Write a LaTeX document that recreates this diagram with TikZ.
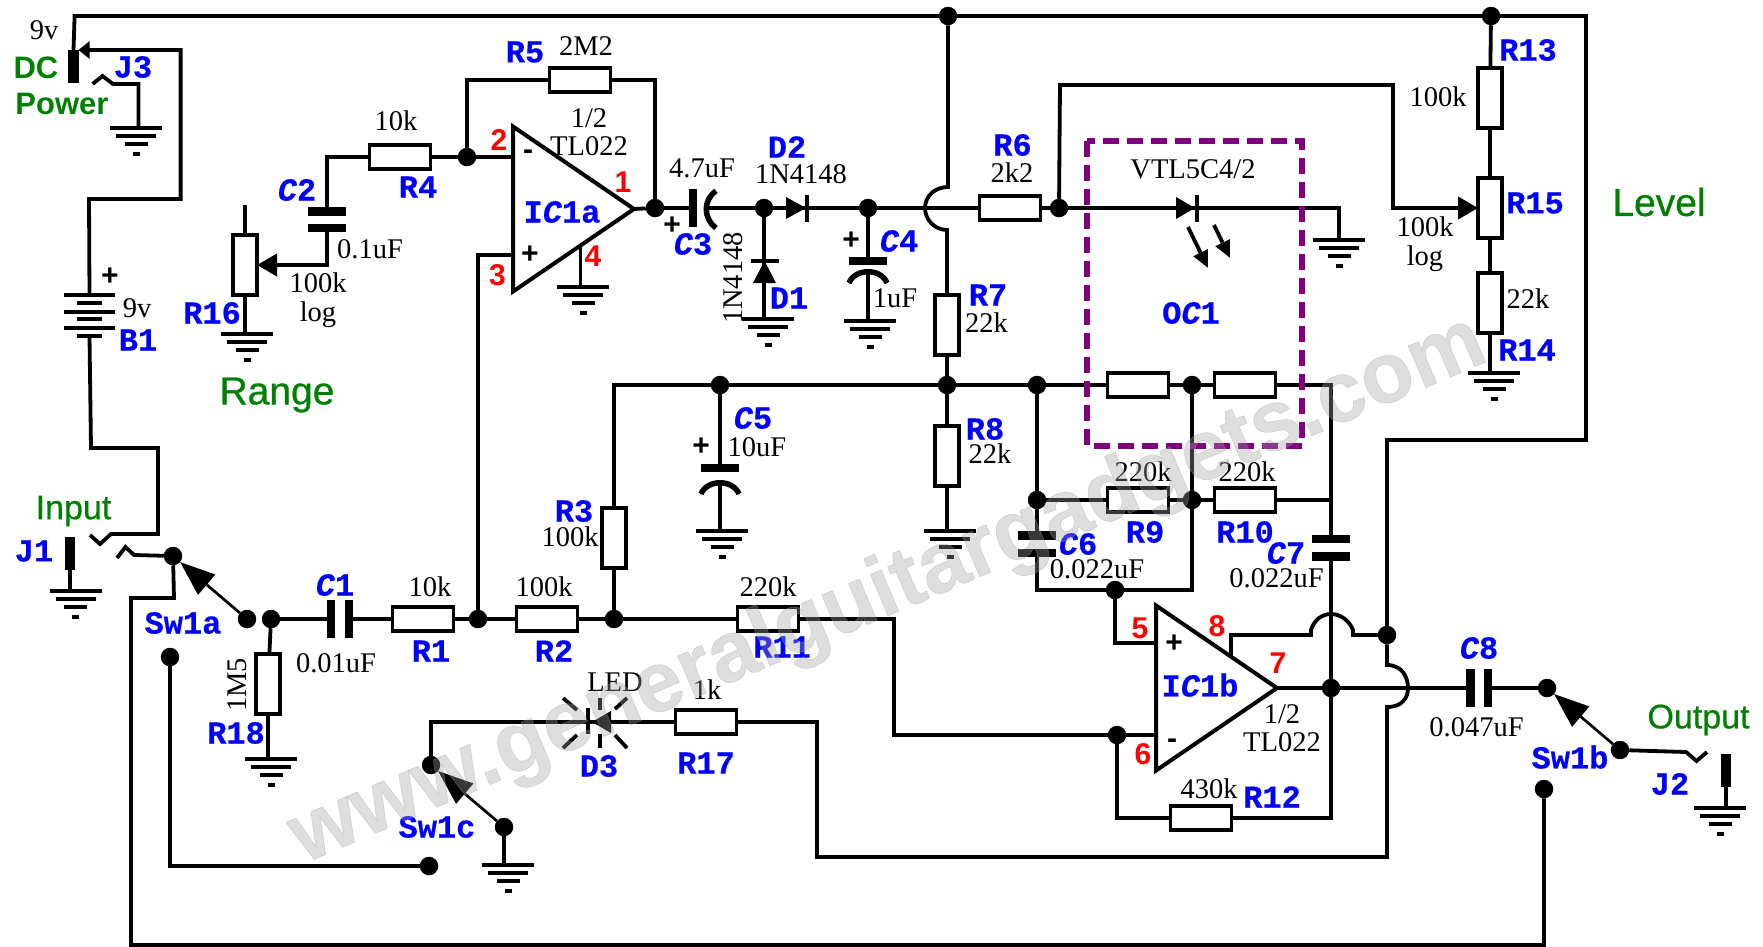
\documentclass[tikz,border=0pt]{standalone}
\usepackage{fontspec}
\setmainfont{Liberation Serif}
\setsansfont{Liberation Sans}
\setmonofont{Liberation Mono}
\newfontfamily\reffont{Liberation Mono}[BoldFeatures={FakeBold=0.5},BoldItalicFeatures={FakeBold=0.5}]
\newfontfamily\namefont{Liberation Sans}[UprightFeatures={FakeBold=0.7}]
\newfontfamily\markfont{Liberation Sans}[BoldFeatures={FakeBold=0.8}]
\usepackage{tikz}
\usetikzlibrary{arrows.meta}
\usetikzlibrary{shapes.geometric}
\definecolor{labelgreen}{RGB}{0,128,0}
\definecolor{boxpurple}{RGB}{128,0,128}
\definecolor{markgray}{RGB}{160,160,160}
\newcommand{\capc}{{\itshape C}}
\tikzstyle{base} = [inner sep=0pt, outer sep=0pt]
\tikzstyle{wire} = [line width=3.8pt]
\tikzstyle{thinwire} = [line width=2.7pt]
\tikzstyle{dot} = [base, circle, fill=black, minimum size=18.5pt]
\tikzstyle{resh} = [base, rectangle, draw=black, line width=3.8pt, minimum width=61pt, minimum height=24.5pt]
\tikzstyle{resv} = [base, rectangle, draw=black, line width=3.8pt, minimum width=24pt, minimum height=60pt]
\tikzstyle{plateh} = [base, rectangle, fill=black, minimum width=38pt, minimum height=8.5pt]
\tikzstyle{platev} = [base, rectangle, fill=black, minimum width=8.5pt, minimum height=38pt]
\tikzstyle{batplate} = [base, rectangle, fill=black, minimum height=4.5pt]
\tikzstyle{jackbar} = [base, rectangle, fill=black, minimum width=10.5pt, minimum height=33pt]
\tikzstyle{curved} = [line width=5.5pt]
\tikzstyle{gline} = [line width=3.2pt]
\tikzstyle{opamp} = [base, isosceles triangle, isosceles triangle stretches, draw=black, line width=4pt, minimum width=165pt, minimum height=121pt, anchor=apex]
\tikzstyle{value} = [base, font=\fontsize{28.5}{28.5}\selectfont]
\tikzstyle{refdes} = [base, text=blue, font=\reffont\bfseries\fontsize{32}{32}\selectfont]
\tikzstyle{pinnum} = [base, text=red, font=\sffamily\bfseries\fontsize{30}{30}\selectfont]
\tikzstyle{signmark} = [base, font=\sffamily\bfseries\fontsize{30}{30}\selectfont]
\tikzstyle{bigname} = [base, text=labelgreen, font=\namefont\fontsize{39}{39}\selectfont]
\tikzstyle{midname} = [base, text=labelgreen, font=\namefont\fontsize{34}{34}\selectfont]
\tikzstyle{boldname} = [base, text=labelgreen, font=\sffamily\bfseries\fontsize{31}{31}\selectfont]
\tikzstyle{wmark} = [base, text=markgray, text opacity=0.35, font=\markfont\bfseries\fontsize{85.5}{85.5}\selectfont]
\begin{document}
\begin{tikzpicture}[x=1pt, y=-1pt, node distance=32pt]
    \useasboundingbox (0,0) rectangle (1763,946);

    \foreach \name/\x/\y in {dtopa/948/16, dtopb/1491/16, din/467/157, dout/655/208, dcthree/764/208, dcfour/868/208, drsix/1059/208, dcfive/720/385, drseven/947/385, dfb/1037/385, doc/1192/385, dcsix/1037/500, drnine/1192/500, dfive/1115/590, dsix/1117/735, dseven/1331/688, deight/1387/635, dmain/478/619, drthree/614/619, dswar/247/619, dswal/271/619, dswat/173/556, dswab/170/657, dswct/431/765, dswcb/504/827, dswcc/429/866, dswbt/1547/688, dswbr/1620/750, dswbb/1544/789}
        \node (\name) [dot] at (\x,\y) {};

    \foreach \name/\x/\y in {gjthree/136/128, grsixteen/247/334, gica/583/287, gdone/768/319, gcfour/870/321, grfourteen/1494/373, gled/1339/240, gcfive/722/531, greight/950/531, gjone/75.5/591, greighteen/271/759, gswc/508/865, gjtwo/1720/808} {
        \coordinate (\name) at (\x,\y);
        \draw[gline] ({\x-26},\y) -- ({\x+26},\y);
        \draw[gline] ({\x-20},{\y+8}) -- ({\x+20},{\y+8});
        \draw[gline] ({\x-11.5},{\y+16}) -- ({\x+11.5},{\y+16});
        \draw[gline] ({\x-3.5},{\y+26}) -- ({\x+3.5},{\y+26});
    }

    \foreach \y/\w in {295/51, 303/25, 312/51, 319/25, 328/51, 336/25}
        \node (bat\y) [batplate, minimum width=\w pt] at (89.5,\y) {};

    \node (jthreebar) [jackbar] at (73.5,66.5) {};
    \node (jonebar) [jackbar] at (70,553) {};
    \node (jtwobar) [jackbar] at (1726,770) {};

    \node (icb) [opamp] at (1277,688) {};
    \node (ica) [opamp] at (634,209) {};
    \coordinate (icainv) at (513,157);
    \coordinate (icapos) at (513,255);
    \coordinate (icafour) at (580.5,246);
    \coordinate (icbpos) at (1157,643);
    \coordinate (icbneg) at (1157,735);
    \coordinate (icbeight) at (1231,657);

    \node (rone) [resh] at (423,619) {};
    \node (rtwo) [resh] at (547,619) {};
    \node (releven) [resh] at (768,619) {};
    \node (rfour) [resh] at (400,157) {};
    \node (rfive) [resh] at (580,80) {};
    \node (rsix) [resh] at (1010,208) {};
    \node (rnine) [resh] at (1138,500) {};
    \node (rten) [resh] at (1245,500) {};
    \node (roca) [resh] at (1138,385) {};
    \node (rocb) [resh] at (1245,385) {};
    \node (rtwelve) [resh] at (1201,818) {};
    \node (rseventeen) [resh] at (706,722) {};
    \node (rthree) [resv] at (614,538) {};
    \node (rseven) [resv] at (947,325) {};
    \node (reight) [resv] at (947,456) {};
    \node (rsixteen) [resv] at (245,265) {};
    \node (reighteen) [resv] at (268,684) {};
    \node (rthirteen) [resv] at (1490,98) {};
    \node (rfifteen) [resv] at (1490,208) {};
    \node (rfourteen) [resv] at (1490,303) {};

    \node (cone) [platev] at (331,619) {};
    \node (coneb) [platev] at (349,619) {};
    \node (ctwo) [plateh] at (327,211.5) {};
    \node (ctwob) [plateh] at (327,228) {};
    \node (cthree) [platev] at (693,208) {};
    \coordinate (cthreeb) at (707,208);
    \node (cfour) [plateh] at (868,261) {};
    \coordinate (cfourb) at (868,273);
    \node (cfive) [plateh] at (720,468) {};
    \coordinate (cfiveb) at (720,482);
    \node (csix) [plateh] at (1037,535.5) {};
    \node (csixb) [plateh] at (1037,553) {};
    \node (cseven) [plateh] at (1331,539) {};
    \node (csevenb) [plateh] at (1331,556.5) {};
    \node (ceight) [platev] at (1470.5,688) {};
    \node (ceightb) [platev] at (1488,688) {};

    \coordinate (jthreetip) at (78.5,50);
    \coordinate (jthreeend) at (92.6,84);
    \coordinate (jthreegnd) at (138.5,128);
    \coordinate (joneend) at (90,535);
    \coordinate (jswend) at (117,558);
    \coordinate (jtwoend) at (1707,752);
    \coordinate (rsixteentop) at (245,205);

    \draw[curved] (716,191) .. controls (703,200) and (703,218) .. (716,228);
    \draw[curved] (849,283) .. controls (855,268) and (881,268) .. (887,283);
    \draw[curved] (701,494) .. controls (707,479) and (733,479) .. (739,494);

    \draw[wire] (jthreebar.north) -- (74.6,16) -- (dtopa);
    \draw[wire] (dtopa) -- (dtopb) -- (1586,16) -- (1586,440) -- (1387,440) -- (deight);
    \draw[wire] (deight) -- (1387,665) .. controls (1402,665) and (1408,677) .. (1408,688) .. controls (1408,698) and (1402,707) .. (1387,707) -- (1387,857) -- (817,857) -- (817,722) -- (rseventeen);
    \draw[wire] (icbeight) -- (1231,635) -- (1311,635) -- (1311,630) .. controls (1314,620) and (1322,614) .. (1331,614) .. controls (1340,614) and (1349,620) .. (1353,630) -- (1353,635) -- (deight);
    \draw[wire,-{Triangle[length=11pt,width=17pt]}] (bat295) -- (89,199) -- (180.6,199) -- (180.6,50) -- (jthreetip);
    \draw[wire] (jthreeend) -- (102.5,76) -- (113,84) -- (138.5,84) -- (jthreegnd);
    \draw[wire] (bat336.center) -- (91,448) -- (158,448) -- (158,534) -- (111,534) -- (100,544) -- (joneend);
    \draw[wire] (dswat) -- (134,555) -- (125.5,547) -- (jswend);
    \draw[wire] (dswat) -- (174,598) -- (131,598) -- (131,945) -- (1544,945) -- (dswbb);
    \draw[wire] (dswab) -- (170,866) -- (dswcc);
    \draw[thinwire,-{Triangle[length=35pt,width=26pt]}] (dswar) -- (dswat);
    \draw[thinwire,-{Triangle[length=35pt,width=26pt]}] (dswcb) -- (dswct);
    \draw[thinwire,-{Triangle[length=35pt,width=26pt]}] (dswbr) -- (dswbt);
    \draw[wire] (jonebar) -- (jonebar |- gjone);
    \draw[wire] (dswal) -- (cone);
    \draw[wire] (dswal) -- (reighteen);
    \draw[wire] (reighteen) -- (reighteen |- greighteen);
    \draw[wire] (coneb) -- (rone);
    \draw[wire] (rone) -- (dmain);
    \draw[wire] (dmain) -- (rtwo);
    \draw[wire] (rtwo) -- (drthree);
    \draw[wire] (drthree) -- (releven);
    \draw[wire] (dmain) |- (icapos);
    \draw[wire] (drthree) -- (rthree);
    \draw[wire] (rthree) |- (dcfive);
    \draw[wire] (releven) -- (894,619) -- (894,735) -- (dsix);
    \draw[wire] (dsix) -- (icbneg);
    \draw[wire] (dsix) |- (rtwelve);
    \draw[wire] (rtwelve) -- (1331,818) -- (dseven);
    \draw[wire] (rfour) -| (ctwo);
    \draw[wire] (rfour) -- (din);
    \draw[wire] (din) -- (icainv);
    \draw[wire] (din) |- (rfive);
    \draw[wire] (rfive) -| (dout);
    \draw[wire,-{Triangle[length=20pt,width=22pt]}] (ctwob) |- (rsixteen);
    \draw[wire] (rsixteen) -- (rsixteentop);
    \draw[wire] (rsixteen) -- (rsixteen |- grsixteen);
    \draw[wire] (icafour) -- (icafour |- gica);
    \draw[wire] (ica.apex) -- (dout);
    \draw[wire] (dout) -- (cthree);
    \draw[wire] (cthreeb) -- (dcthree);
    \draw[wire] (dcthree) -- (dcfour);
    \draw[wire] (dcfour) -- (rsix);
    \draw[wire] (rsix) -- (drsix);
    \draw[wire] (dcthree) -- (dcthree |- gdone);
    \draw[wire] (dcfour) -- (cfour);
    \draw[wire] (cfourb) -- (cfourb |- gcfour);
    \draw[wire] (dtopa) -- (948,187) .. controls (935,187) and (925,196) .. (925,208) .. controls (925,220) and (935,230) .. (947,230) -- (rseven);
    \draw[wire] (rseven) -- (drseven);
    \draw[wire] (drseven) -- (reight);
    \draw[wire] (reight) -- (reight |- greight);
    \draw[wire] (dcfive) -- (cfive);
    \draw[wire] (cfiveb) -- (cfiveb |- gcfive);
    \draw[wire] (dcfive) -- (drseven);
    \draw[wire] (drseven) -- (dfb);
    \draw[wire] (dfb) -- (roca);
    \draw[wire] (roca) -- (doc);
    \draw[wire] (doc) -- (rocb);
    \draw[wire] (rocb) -- (1331,385) -- (cseven);
    \draw[wire] (rten) -- (1331,500);
    \draw[wire] (csevenb) -- (dseven);
    \draw[wire] (dfb) -- (dcsix);
    \draw[wire] (dcsix) -- (csix);
    \draw[wire] (dcsix) -- (rnine);
    \draw[wire] (rnine) -- (drnine);
    \draw[wire] (drnine) -- (rten);
    \draw[wire] (doc) -- (drnine);
    \draw[wire] (csixb) -- (1037,590) -- (dfive);
    \draw[wire] (dfive) -- (1192,590) -- (drnine);
    \draw[wire] (dfive) |- (icbpos);
    \draw[wire] (icb.apex) -- (dseven);
    \draw[wire] (dseven) -- (ceight);
    \draw[wire] (ceightb) -- (dswbt);
    \draw[wire] (dswbr) -- (1686,752) -- (1696.5,761) -- (jtwoend);
    \draw[wire] (jtwobar.south) |- (jtwobar.south |- gjtwo);
    \draw[wire] (drsix) -- (1339,208) -- (gled);
    \draw[wire] (drsix) -- (1060,85) -- (1393,85) -- (1393,208) -- (1440,208);
    \draw[wire,-{Triangle[length=20pt,width=22pt]}] (1393,208) -- (rfifteen);
    \draw[wire] (dtopb) -- (rthirteen);
    \draw[wire] (rthirteen) -- (rfifteen);
    \draw[wire] (rfifteen) -- (rfourteen);
    \draw[wire] (rfourteen) -- (rfourteen |- grfourteen);
    \draw[wire] (dswct) |- (rseventeen);
    \draw[wire] (dswcb) -- (dswcb |- gswc);

    \fill (786,197) -- (806,208) -- (786,219) -- cycle;
    \draw[wire] (807,195) -- (807,222);
    \fill (753,283) -- (764.5,261) -- (776,283) -- cycle;
    \draw[wire] (751,261) -- (779,261);
    \fill (1176,197) -- (1195,208) -- (1176,219) -- cycle;
    \draw[wire] (1197,195) -- (1197,222);
    \draw[wire,-{Triangle[length=17pt,width=15pt]}] (1188,227) -- (1208,268);
    \draw[wire,-{Triangle[length=17pt,width=15pt]}] (1214,225) -- (1230,258);
    \fill (592,722) -- (611,711) -- (611,733) -- cycle;
    \draw[wire] (588,708) -- (588,734);
    \draw[wire] (600,698) -- (600,710);
    \draw[wire] (600,734) -- (600,748);
    \draw[wire] (563,698) -- (577,710);
    \draw[wire] (563,748) -- (577,735);
    \draw[wire] (627,698) -- (615,709);
    \draw[wire] (627,748) -- (615,735);

    \draw[line width=6pt, boxpurple, dash pattern=on 16pt off 8pt] (1087,141) rectangle (1302,446);

    \node (nine) [value] at (44,30) {9v};
    \node (ninebat) [value] at (137,308) {9v};
    \node (twomtwo) [value, above of=rfive, xshift=6pt, yshift=2pt] {2M2};
    \node (rfourval) [value, above of=rfour, xshift=-4pt, yshift=4pt] {10k};
    \node (ronev) [value, above of=rone, xshift=7pt] {10k};
    \node (rtwov) [value, above of=rtwo, xshift=-3pt] {100k};
    \node (relev) [value, above of=releven] {220k};
    \node (rsixv) [value, above of=rsix, xshift=2pt, yshift=3pt] {2k2};
    \node (rninev) [value, above of=rnine, xshift=5pt, yshift=-4pt] {220k};
    \node (rtenv) [value, above of=rten, xshift=2pt, yshift=-4pt] {220k};
    \node (rtwelvev) [value, above of=rtwelve, xshift=8pt, yshift=-3pt] {430k};
    \node (rsevv) [value, above of=rseventeen, xshift=1pt] {1k};
    \node (rthreev) [value] at (570,537) {100k};
    \node (rsevenv) [value] at (986.5,323) {22k};
    \node (reightv) [value] at (990,454) {22k};
    \node (rthirv) [value] at (1438,97) {100k};
    \node (rfiftv) [value, align=center] at (1425,244) {100k\\log};
    \node (rfourtv) [value] at (1528,299) {22k};
    \node (rsixtv) [value, align=center] at (318,300) {100k\\log};
    \node (reighteenv) [value, rotate=90] at (237,685) {1M5};
    \node (conev) [value] at (336,663) {0.01uF};
    \node (ctwov) [value] at (370,249) {0.1uF};
    \node (cthreev) [value] at (702,168) {4.7uF};
    \node (cfourv) [value] at (895,298) {1uF};
    \node (cfivev) [value] at (757,447) {10uF};
    \node (csixv) [value] at (1097,569) {0.022uF};
    \node (csevenv) [value] at (1276.5,578) {0.022uF};
    \node (ceightv) [value] at (1476.5,727) {0.047uF};
    \node (dtwov) [value] at (801,174) {1N4148};
    \node (donev) [value, rotate=90] at (733,278) {1N4148};
    \node (ledv) [value] at (615,682) {LED};
    \node (vtl) [value] at (1193,169) {VTL5C4/2};
    \node (icahalf) [value, align=center] at (589,132) {1/2\\TL022};
    \node (icbhalf) [value, align=center] at (1282,728) {1/2\\TL022};

    \node (ronel) [refdes, below of=rone, xshift=8pt] {R1};
    \node (rtwol) [refdes, below of=rtwo, xshift=7pt] {R2};
    \node (relevl) [refdes, below of=releven, xshift=14pt, yshift=4pt] {R11};
    \node (rfourl) [refdes, below of=rfour, xshift=18pt, yshift=2pt] {R4};
    \node (rninel) [refdes, below of=rnine, xshift=7pt] {R9};
    \node (rtenl) [refdes, below of=rten] {R10};
    \node (rsevl) [refdes, below of=rseventeen, yshift=-9pt] {R17};
    \node (rfivel) [refdes] at (525,52) {R5};
    \node (rsixl) [refdes] at (1012.5,145) {R6};
    \node (rthreel) [refdes] at (574,511) {R3};
    \node (rsevenl) [refdes] at (988,295) {R7};
    \node (reightl) [refdes] at (985,429) {R8};
    \node (rtwelvel) [refdes] at (1272,797) {R12};
    \node (rthirl) [refdes] at (1528,50) {R13};
    \node (rfifl) [refdes] at (1535,203) {R15};
    \node (rfourtl) [refdes] at (1527,350) {R14};
    \node (rsixtl) [refdes] at (212,313) {R16};
    \node (reighteenl) [refdes] at (236,733) {R18};
    \node (conel) [refdes] at (335,585) {\capc 1};
    \node (ctwol) [refdes] at (297,190) {\capc 2};
    \node (cthreel) [refdes] at (693,244) {\capc 3};
    \node (cfourl) [refdes] at (899,241) {\capc 4};
    \node (cfivel) [refdes] at (753,418) {\capc 5};
    \node (csixl) [refdes] at (1078,544) {\capc 6};
    \node (csevenl) [refdes] at (1286,553) {\capc 7};
    \node (ceightl) [refdes] at (1479,648) {\capc 8};
    \node (donel) [refdes] at (789,298) {D1};
    \node (dtwol) [refdes] at (787,147) {D2};
    \node (dthreel) [refdes] at (599,766) {D3};
    \node (batl) [refdes] at (138,340) {B1};
    \node (jonel) [refdes] at (34,551) {J1};
    \node (jtwol) [refdes] at (1670,784) {J2};
    \node (jthreel) [refdes] at (133,67) {J3};
    \node (swal) [refdes] at (183,623) {Sw1a};
    \node (swbl) [refdes] at (1570,757) {Sw1b};
    \node (swcl) [refdes] at (437,827) {Sw1c};
    \node (ical) [refdes] at (562,212) {I\capc 1a};
    \node (icbl) [refdes] at (1200,685) {I\capc 1b};
    \node (ocl) [refdes] at (1191,313) {O\capc 1};

    \node (pintwo) [pinnum] at (499,140) {2};
    \node (pinthree) [pinnum] at (497.5,275) {3};
    \node (pinone) [pinnum] at (623,182) {1};
    \node (pinfour) [pinnum] at (593,256) {4};
    \node (pinfive) [pinnum] at (1140,628) {5};
    \node (pinsix) [pinnum] at (1143,754) {6};
    \node (pinseven) [pinnum] at (1278,663) {7};
    \node (pineight) [pinnum] at (1217,626) {8};

    \node (plusbat) [signmark] at (110,277) {+};
    \node (plusa) [signmark] at (530,255) {+};
    \node (minusa) [signmark] at (528,155) {-};
    \node (plusb) [signmark] at (1174,644) {+};
    \node (minusb) [signmark] at (1172,744) {-};
    \node (pluscthree) [signmark] at (672,226) {+};
    \node (pluscfour) [signmark] at (851,241) {+};
    \node (pluscfive) [signmark] at (701,447) {+};

    \node (dcpower) [boldname] at (36,68) {DC};
    \node (power) [boldname] at (62,104) {Power};
    \node (input) [midname] at (73.5,511) {Input};
    \node (output) [midname] at (1698.5,720) {Output};
    \node (range) [bigname] at (277,395) {Range};
    \node (level) [bigname] at (1659,202) {Level};

    \node (watermark) [wmark, rotate=23, anchor=base] at (897,612) {www.generalguitargadgets.com};
\end{tikzpicture}
\end{document}
